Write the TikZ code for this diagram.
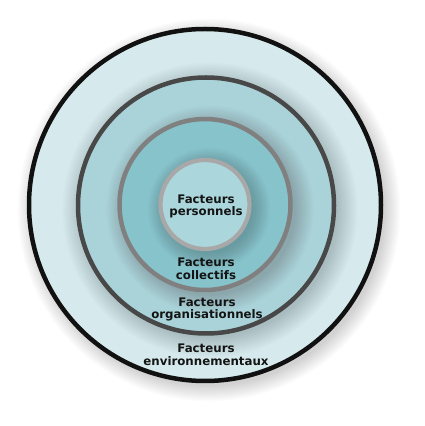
\documentclass[tikz,border=0pt]{standalone}
\usepackage{fontspec}
\setmainfont{DejaVu Sans}
\definecolor{ringA}{HTML}{D6EAED}
\definecolor{ringB}{HTML}{A9D3D9}
\definecolor{ringC}{HTML}{87C3CB}
\definecolor{ringD}{HTML}{ABD6DC}
\definecolor{strokeA}{HTML}{111111}
\definecolor{strokeB}{HTML}{484848}
\definecolor{strokeC}{HTML}{808080}
\definecolor{strokeD}{HTML}{A8A8A8}
\definecolor{txt}{HTML}{141414}
\tikzset{
  lbl/.style={align=center, text=txt, inner sep=0pt,
    font=\bfseries\fontsize{11.8}{12.8}\selectfont},
  shade/.style={fill=black, opacity=0.01}
}
\begin{document}
\begin{tikzpicture}[x=1pt,y=1pt]
\useasboundingbox (0,0) rectangle (425,426);
\fill[white] (0,0) rectangle (425,426);
% outer drop shadow
\foreach \i in {0,...,14} \fill[shade] (209,216) circle ({176+\i*1.1});
% outer ring
\fill[ringA] (205,221) circle (176);
\begin{scope}
  \clip (205,221) circle (176);
  \foreach \i in {0,...,14} \fill[shade] (210,216) circle ({128+\i*1.4});
\end{scope}
% ring 2
\fill[ringB] (206,220.5) circle (128);
\begin{scope}
  \clip (206,220.5) circle (128);
  \foreach \i in {0,...,14} \fill[shade] (210,216.5) circle ({85.5+\i*1.3});
\end{scope}
% ring 3
\fill[ringC] (205,221.5) circle (85.5);
\begin{scope}
  \clip (205,221.5) circle (85.5);
  \foreach \i in {0,...,14} \fill[shade] (209,217) circle ({44.5+\i*1.2});
\end{scope}
% inner
\fill[ringD] (205,221.5) circle (44.5);
% strokes
\draw[strokeA, line width=4.5pt] (205,221) circle (176);
\draw[strokeB, line width=4.5pt] (206,220.5) circle (128);
\draw[strokeC, line width=4.5pt] (205,221.5) circle (85.5);
\draw[strokeD, line width=4.2pt] (205,221.5) circle (44.5);
% labels
\node[lbl] (p) at (206,219.5) {Facteurs\\personnels};
\node[lbl] (c) at (206,157) {Facteurs\\collectifs};
\node[lbl] (o) at (207,116.5) {Facteurs\\organisationnels};
\node[lbl] (e) at (206,71.5) {Facteurs\\environnementaux};
\end{tikzpicture}
\end{document}
